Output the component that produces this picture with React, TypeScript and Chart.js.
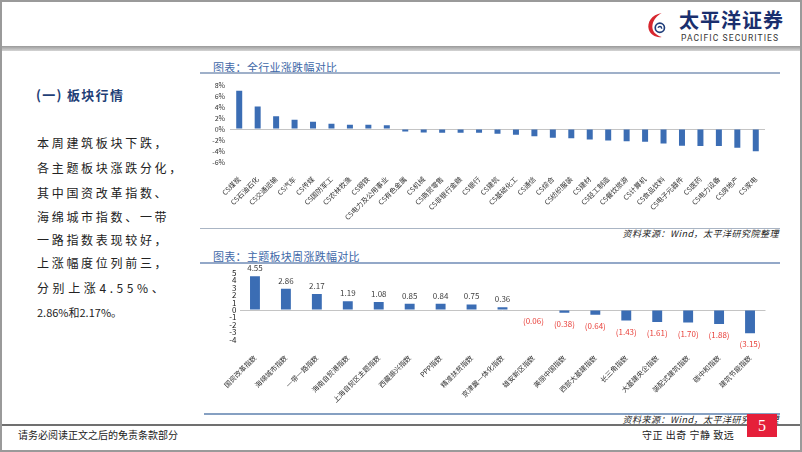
import React, { useEffect, useRef } from "react";
import { Chart, registerables } from "chart.js";

Chart.register(...registerables);

const FONT = '"Noto Sans CJK SC", "Noto Sans", "DejaVu Sans", sans-serif';
const BAR = "#3b6db4";

const industryLabels = [
  "CS煤炭", "CS石油石化", "CS交通运输", "CS汽车", "CS传媒", "CS国防军工", "CS农林牧渔", "CS钢铁",
  "CS电力及公用事业", "CS有色金属", "CS机械", "CS商贸零售", "CS非银行金融", "CS银行", "CS建筑",
  "CS基础化工", "CS通信", "CS综合", "CS纺织服装", "CS建材", "CS轻工制造", "CS餐饮旅游", "CS计算机",
  "CS食品饮料", "CS电子元器件", "CS医药", "CS电力设备", "CS房地产", "CS家电",
];
const industryValues = [
  7.0, 4.1, 2.35, 1.7, 1.35, 0.95, 0.8, 0.8, 0.7, -0.45, -0.6, -0.65, -0.65, -0.65, -0.85,
  -1.05, -1.3, -1.6, -1.65, -1.9, -2.1, -2.2, -2.3, -2.65, -3.05, -3.1, -3.1, -3.4, -4.05,
];
const industryTickRange = [-6, 8, 2];

const themeLabels = [
  "国资改革指数", "海绵城市指数", "一带一路指数", "海南自贸港指数", "上海自贸区主题指数", "西藏振兴指数",
  "PPP指数", "精准扶贫指数", "京津冀一体化指数", "雄安新区指数", "美丽中国指数", "西部大基建指数",
  "长三角指数", "大基建央企指数", "装配式建筑指数", "碳中和指数", "建筑节能指数",
];
const themeValues = [
  4.55, 2.86, 2.17, 1.19, 1.08, 0.85, 0.84, 0.75, 0.36, -0.06, -0.38, -0.64, -1.43, -1.61, -1.7, -1.88, -3.15,
];
const themeTickRange = [-4, 5, 1];

const bodyLines = [
  "本周建筑板块下跌，",
  "各主题板块涨跌分化，",
  "其中国资改革指数、",
  "海绵城市指数、一带",
  "一路指数表现较好，",
  "上涨幅度位列前三，",
  "分别上涨4.55%、",
  "2.86%和2.17%。",
];

function IndustryChart() {
  const ref = useRef<HTMLCanvasElement | null>(null);
  useEffect(() => {
    if (!ref.current) return;
    const chart = new Chart(ref.current, {
      type: "bar",
      data: {
        labels: industryLabels,
        datasets: [
          { data: industryValues, backgroundColor: BAR, barPercentage: 0.65, categoryPercentage: 0.5 },
        ],
      },
      options: {
        responsive: false,
        animation: false,
        layout: { padding: { top: 6, right: 15, left: 0, bottom: 0 } },
        plugins: { legend: { display: false }, tooltip: { enabled: false } },
        scales: {
          x: {
            grid: { display: false },
            border: { display: false },
            ticks: {
              autoSkip: false,
              maxRotation: 45,
              minRotation: 45,
              padding: 5,
              color: "#333",
              font: { size: 7, family: FONT },
            },
            afterFit: (s: any) => {
              s.height = 64;
            },
          },
          y: {
            min: industryTickRange[0],
            max: industryTickRange[1],
            ticks: {
              stepSize: industryTickRange[2],
              autoSkip: false,
              padding: 5,
              color: "#333",
              font: { size: 7, family: FONT },
              callback: (v: any) => v + "%",
            },
            grid: {
              drawTicks: false,
              color: (c: any) => (c.tick && c.tick.value === 0 ? "#c4c4c4" : "rgba(0,0,0,0)"),
            },
            border: { display: false },
            afterFit: (s: any) => {
              s.width = 30;
            },
          },
        },
      },
    });
    return () => chart.destroy();
  }, []);
  return <canvas ref={ref} width={580} height={150} style={{ width: 580, height: 150, display: "block" }} />;
}

function ThemeChart() {
  const ref = useRef<HTMLCanvasElement | null>(null);
  useEffect(() => {
    if (!ref.current) return;
    const valuePlugin = {
      id: "themeValueLabels",
      afterDatasetsDraw(chart: any) {
        const ctx = chart.ctx;
        const meta = chart.getDatasetMeta(0);
        ctx.save();
        ctx.font = `8px ${FONT}`;
        ctx.textAlign = "center";
        meta.data.forEach((bar: any, i: number) => {
          const v = themeValues[i];
          const { x, y } = bar.getProps(["x", "y"], true);
          if (v >= 0) {
            ctx.fillStyle = "#404040";
            ctx.textBaseline = "bottom";
            ctx.fillText(v.toFixed(2), x, y - 4);
          } else {
            ctx.fillStyle = "#e8413b";
            ctx.textBaseline = "top";
            ctx.fillText(`(${Math.abs(v).toFixed(2)})`, x, y + 7);
          }
        });
        ctx.restore();
      },
    };
    const chart = new Chart(ref.current, {
      type: "bar",
      data: {
        labels: themeLabels,
        datasets: [
          { data: themeValues, backgroundColor: BAR, barPercentage: 0.64, categoryPercentage: 0.5 },
        ],
      },
      options: {
        responsive: false,
        animation: false,
        layout: { padding: { top: 9, right: 14.5, left: 0, bottom: 0 } },
        plugins: { legend: { display: false }, tooltip: { enabled: false } },
        scales: {
          x: {
            grid: { display: false },
            border: { display: false },
            ticks: {
              autoSkip: false,
              maxRotation: 45,
              minRotation: 45,
              padding: 6,
              color: "#333",
              font: { size: 7, family: FONT },
            },
            afterFit: (s: any) => {
              s.height = 70.4;
            },
          },
          y: {
            min: themeTickRange[0],
            max: themeTickRange[1],
            ticks: {
              stepSize: themeTickRange[2],
              autoSkip: false,
              padding: 3,
              color: "#222",
              font: { size: 8, family: FONT },
            },
            grid: {
              drawTicks: false,
              color: (c: any) => (c.tick && c.tick.value === 0 ? "#c4c4c4" : "rgba(0,0,0,0)"),
            },
            border: { display: false },
            afterFit: (s: any) => {
              s.width = 39.5;
            },
          },
        },
      },
      plugins: [valuePlugin],
    });
    return () => chart.destroy();
  }, []);
  return <canvas ref={ref} width={580} height={146} style={{ width: 580, height: 146, display: "block" }} />;
}

const abs = (l: number, t: number, extra: React.CSSProperties = {}): React.CSSProperties => ({
  position: "absolute",
  left: l,
  top: t,
  ...extra,
});

export default function App() {
  return (
    <div
      style={{
        position: "absolute",
        left: 0,
        top: 0,
        width: 802,
        height: 452,
        overflow: "hidden",
        background: "#fff",
        fontFamily: FONT,
      }}
    >
      {/* frame */}
      <div style={abs(0, 0, { width: 802, height: 452, boxSizing: "border-box", border: "2px solid #9a9a9a" })} />
      {/* header band */}
      <div style={abs(2, 46, { width: 798, height: 5, background: "linear-gradient(#9a9a9a, #d4d4d4)" })} />

      {/* logo */}
      <svg style={abs(646, 10)} width={24} height={30} viewBox="0 0 26 30">
        <path d="M17 2 C6 4 1 12 3 20 C5 26 11 29 17 28 C10 26 6 21 7 15 C8 9 12 5 17 2 Z" fill="#d7262e" />
        <circle cx="15" cy="18" r="5" fill="none" stroke="#1f3d7a" strokeWidth="1.8" />
        <path d="M13 18 C14 16 17 16 17 19" fill="none" stroke="#1f3d7a" strokeWidth="1.5" />
      </svg>
      <div
        style={abs(679, 9, {
          fontSize: 20,
          fontWeight: 700,
          color: "#1a2f6e",
          lineHeight: "22px",
          letterSpacing: 1,
          whiteSpace: "nowrap",
        })}
      >
        太平洋证券
      </div>
      <div
        style={abs(681, 33, {
          fontSize: 8.5,
          color: "#333",
          letterSpacing: 1.1,
          lineHeight: "10px",
          fontFamily: "Roboto, sans-serif",
          whiteSpace: "nowrap",
        })}
      >
        PACIFIC SECURITIES
      </div>

      {/* left text */}
      <div
        style={abs(36, 86, {
          fontSize: 13,
          fontWeight: 700,
          color: "#1f3f77",
          lineHeight: "18px",
          whiteSpace: "nowrap",
          letterSpacing: 1.3,
        })}
      >
        (一) 板块行情
      </div>
      {bodyLines.map((t, i) => {
        const centers = [143, 168, 193, 217, 240, 263, 288, 312];
        const last = i === bodyLines.length - 1;
        return (
          <div
            key={i}
            style={abs(37, centers[i] - 8, {
              fontSize: last ? 11 : 12,
              lineHeight: "16px",
              color: "#222",
              letterSpacing: i === 6 ? 3.6 : last ? 0 : 2.7,
              whiteSpace: "nowrap",
            })}
          >
            {t}
          </div>
        );
      })}

      {/* chart 1 */}
      <div style={abs(213, 60, { fontSize: 11, color: "#4068a8", letterSpacing: 0.3, lineHeight: "14px", whiteSpace: "nowrap" })}>
        图表：全行业涨跌幅对比
      </div>
      <div style={abs(200, 72, { width: 580, height: 2, background: "#9fb0c9" })} />
      <div style={abs(200, 76)}>
        <IndustryChart />
      </div>
      <div style={abs(200, 228, { width: 580, height: 1, background: "#aab5c4" })} />
      <div
        style={abs(560, 228, {
          width: 219,
          textAlign: "right",
          fontSize: 9,
          fontStyle: "italic",
          color: "#222",
          lineHeight: "12px",
          letterSpacing: 0.5,
          whiteSpace: "nowrap",
        })}
      >
        资料来源：Wind，太平洋研究院整理
      </div>

      {/* chart 2 */}
      <div style={abs(213, 249, { fontSize: 11, color: "#4068a8", letterSpacing: 0.3, lineHeight: "14px", whiteSpace: "nowrap" })}>
        图表：主题板块周涨跌幅对比
      </div>
      <div style={abs(200, 262, { width: 580, height: 2, background: "#93a8c8" })} />
      <div style={abs(200, 264)}>
        <ThemeChart />
      </div>
      <div style={abs(204, 413, { width: 576, height: 2, background: "#86a0c2" })} />
      <div
        style={abs(560, 414, {
          width: 219,
          textAlign: "right",
          fontSize: 9,
          fontStyle: "italic",
          color: "#222",
          lineHeight: "11px",
          letterSpacing: 0.5,
          whiteSpace: "nowrap",
        })}
      >
        资料来源：Wind，太平洋研究院整理
      </div>

      {/* footer */}
      <div style={abs(2, 424, { width: 798, height: 2, background: "#707070" })} />
      <div
        style={abs(747, 414, {
          width: 30,
          height: 23,
          background: "#e51f3a",
          color: "#fff",
          fontFamily: '"Liberation Serif", serif',
          fontSize: 16,
          lineHeight: "23px",
          textAlign: "center",
        })}
      >
        5
      </div>
      <div style={abs(18, 429, { fontSize: 10, color: "#222", lineHeight: "12px", whiteSpace: "nowrap" })}>
        请务必阅读正文之后的免责条款部分
      </div>
      <div style={abs(642, 429, { fontSize: 10, color: "#222", lineHeight: "12px", whiteSpace: "nowrap", letterSpacing: 0.5 })}>
        守正 出奇 宁静 致远
      </div>
    </div>
  );
}
